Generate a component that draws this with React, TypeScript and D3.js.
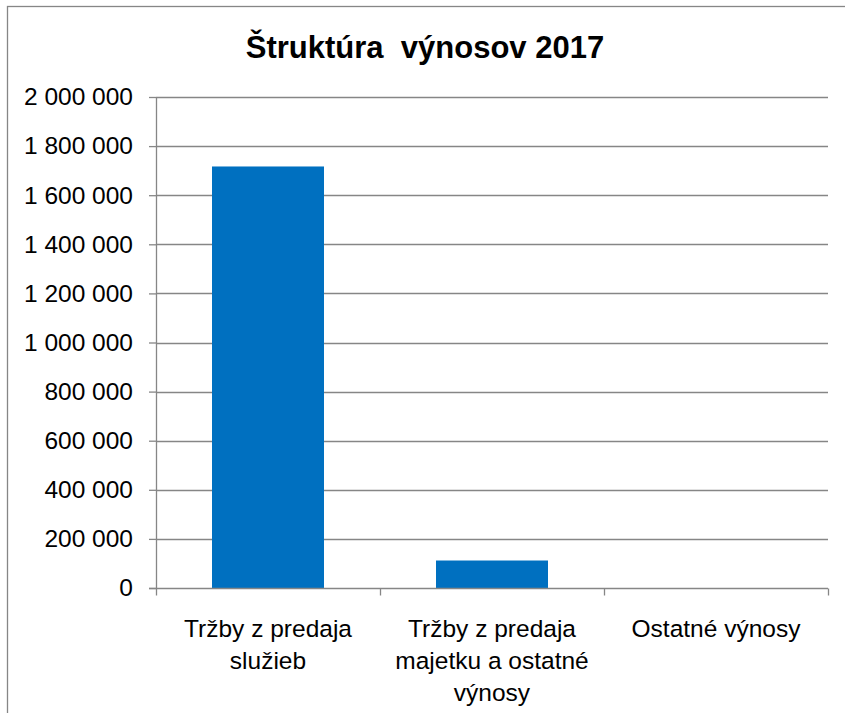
import React, { useEffect, useRef } from 'react';
import * as d3 from 'd3';

const categories = [
  ['Tržby z predaja', 'služieb'],
  ['Tržby z predaja', 'majetku a ostatné', 'výnosy'],
  ['Ostatné výnosy'],
];
const values = [1717000, 112000, 0];
const yTicks = [0, 200000, 400000, 600000, 800000, 1000000, 1200000, 1400000, 1600000, 1800000, 2000000];
const title = 'Štruktúra  výnosov 2017';

const W = 845;
const H = 713;

export default function App() {
  const svgRef = useRef<SVGSVGElement>(null);

  useEffect(() => {
    if (!svgRef.current) return;
    const svg = d3.select(svgRef.current);
    svg.selectAll('*').remove();

    const margin = { top: 97, right: 17, bottom: 125, left: 156 };
    const width = W - margin.left - margin.right;
    const height = H - margin.top - margin.bottom;
    const grey = '#868686';
    const font = "'Liberation Sans', Arial, sans-serif";

    // chart border (runs off the right/bottom like the original)
    svg.append('rect')
      .attr('x', 7.5)
      .attr('y', 6.5)
      .attr('width', 900)
      .attr('height', 900)
      .attr('fill', 'none')
      .attr('stroke', grey)
      .attr('stroke-width', 1.3);

    svg.append('text')
      .attr('x', 425)
      .attr('y', 58)
      .attr('text-anchor', 'middle')
      .attr('font-family', font)
      .attr('font-weight', 'bold')
      .attr('font-size', 31)
      .attr('fill', '#000')
      .style('white-space', 'pre')
      .text(title);

    const g = svg.append('g').attr('transform', `translate(${margin.left},${margin.top})`);

    const x = d3.scaleBand<number>()
      .domain(categories.map((_, i) => i))
      .range([0, width])
      .paddingInner(0.5)
      .paddingOuter(0.25);

    const y = d3.scaleLinear().domain([0, 2000000]).range([height, 0]);

    // gridlines
    g.selectAll('.grid')
      .data(yTicks.filter(d => d > 0))
      .enter()
      .append('line')
      .attr('x1', 0)
      .attr('x2', width)
      .attr('y1', d => Math.round(y(d)) + 0.5)
      .attr('y2', d => Math.round(y(d)) + 0.5)
      .attr('stroke', grey)
      .attr('stroke-width', 1.3);

    // bars
    g.selectAll('.bar')
      .data(values)
      .enter()
      .append('rect')
      .attr('x', (_, i) => x(i)!)
      .attr('y', d => y(d))
      .attr('width', x.bandwidth())
      .attr('height', d => height - y(d))
      .attr('fill', '#0070C0');

    // y axis
    const yAxis = g.append('g')
      .call(d3.axisLeft(y).tickValues(yTicks).tickSize(7).tickPadding(16)
        .tickFormat(d => d3.format(',')(d as number).replace(/,/g, ' ')));
    yAxis.select('.domain').attr('stroke', grey).attr('stroke-width', 1.3).attr('d', `M0.5,${height}V0`);
    yAxis.selectAll('.tick line').attr('stroke', grey).attr('stroke-width', 1.3);
    yAxis.selectAll('.tick text')
      .attr('font-family', font)
      .attr('font-size', 24.5)
      .attr('fill', '#000');

    // x axis baseline + category dividers
    const base = g.append('g').attr('transform', `translate(0,${Math.round(height) + 0.5})`);
    base.append('line')
      .attr('x1', -7).attr('x2', width)
      .attr('stroke', grey).attr('stroke-width', 1.3);
    const step = width / categories.length;
    base.selectAll('.div')
      .data(d3.range(categories.length + 1))
      .enter()
      .append('line')
      .attr('x1', d => Math.round(d * step) + 0.5)
      .attr('x2', d => Math.round(d * step) + 0.5)
      .attr('y1', 0)
      .attr('y2', 7)
      .attr('stroke', grey)
      .attr('stroke-width', 1.3);

    // category labels
    categories.forEach((lines, i) => {
      const t = base.append('text')
        .attr('x', x(i)! + x.bandwidth() / 2)
        .attr('y', 48)
        .attr('text-anchor', 'middle')
        .attr('font-family', font)
        .attr('font-size', 24.5)
        .attr('fill', '#000');
      lines.forEach((ln, j) => {
        t.append('tspan')
          .attr('x', x(i)! + x.bandwidth() / 2)
          .attr('dy', j === 0 ? 0 : 32)
          .text(ln);
      });
    });
  }, []);

  return (
    <svg
      ref={svgRef}
      width={W}
      height={H}
      style={{ position: 'absolute', left: 0, top: 0, background: '#fff' }}
    />
  );
}
